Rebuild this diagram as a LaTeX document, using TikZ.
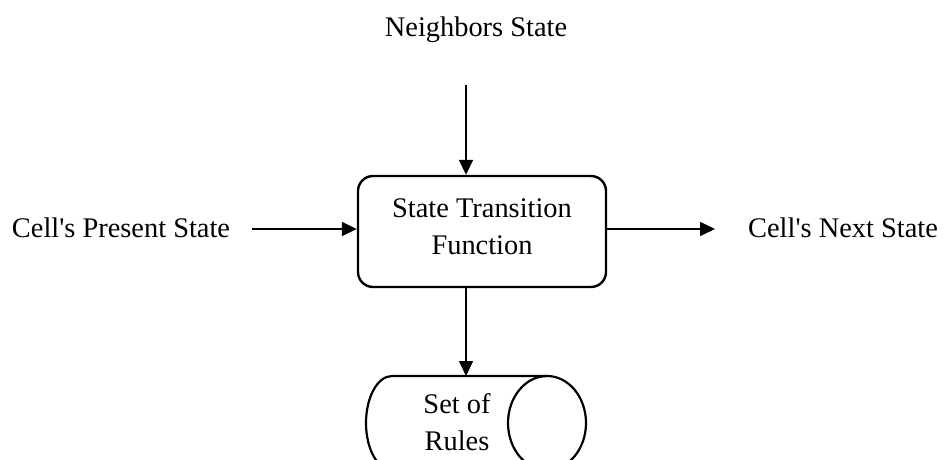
\documentclass[tikz,border=0pt]{standalone}
\usepackage{fontspec}
\setmainfont{Liberation Serif}
\usetikzlibrary{arrows.meta}

\tikzset{
  lbl/.style={inner sep=0pt, anchor=base, font=\fontsize{28.4}{37}\selectfont},
  procbox/.style={draw, line width=2.4pt, rounded corners=15pt,
    minimum width=248pt, minimum height=111pt, inner sep=0pt, align=center,
    font=\fontsize{28.4}{37}\selectfont},
  storeline/.style={line width=2.2pt},
  storetext/.style={inner sep=0pt, align=center, font=\fontsize{28.4}{37}\selectfont},
  flow/.style={line width=1.6pt, -{Triangle[length=15pt,width=14pt]}}
}

\begin{document}
\begin{tikzpicture}[x=1pt, y=-1pt]
  \clip (0,0) rectangle (947,460);
  \useasboundingbox (0,0) rectangle (947,460);

  % central process (the strut lifts the two lines slightly above centre)
  \node[procbox] (stf) at (482,231.5)
    {State Transition\\Function\rule[-10pt]{0pt}{10pt}};

  % inputs and output
  \node[lbl] (nb) at (476,37) {Neighbors State};
  \node[lbl] (cur) at (121,237) {Cell\textquotesingle s Present State};
  \node[lbl] (nxt) at (843,237) {Cell\textquotesingle s Next State};

  % rule store: horizontal cylinder, rounded left end, full ellipse on the right
  \draw[storeline] (547,376) -- (392,376)
    arc[start angle=270, end angle=90, x radius=26, y radius=47] -- (547,470);
  \draw[storeline] (547,423) ellipse [x radius=39, y radius=47];
  \node[storetext] (rules) at (457,421.8) {Set of\\Rules};
  \coordinate (rulestop) at (466,376);

  % connector ends
  \coordinate (nbend) at (466,85);
  \coordinate (curend) at (252,229);
  \coordinate (nxtend) at (715,229);

  \draw[flow] (nbend) -- (nbend |- stf.north);
  \draw[flow] (curend) -- (curend -| stf.west);
  \draw[flow] (curend -| stf.east) -- (nxtend);
  \draw[flow] (nbend |- stf.south) -- (rulestop);
\end{tikzpicture}
\end{document}
